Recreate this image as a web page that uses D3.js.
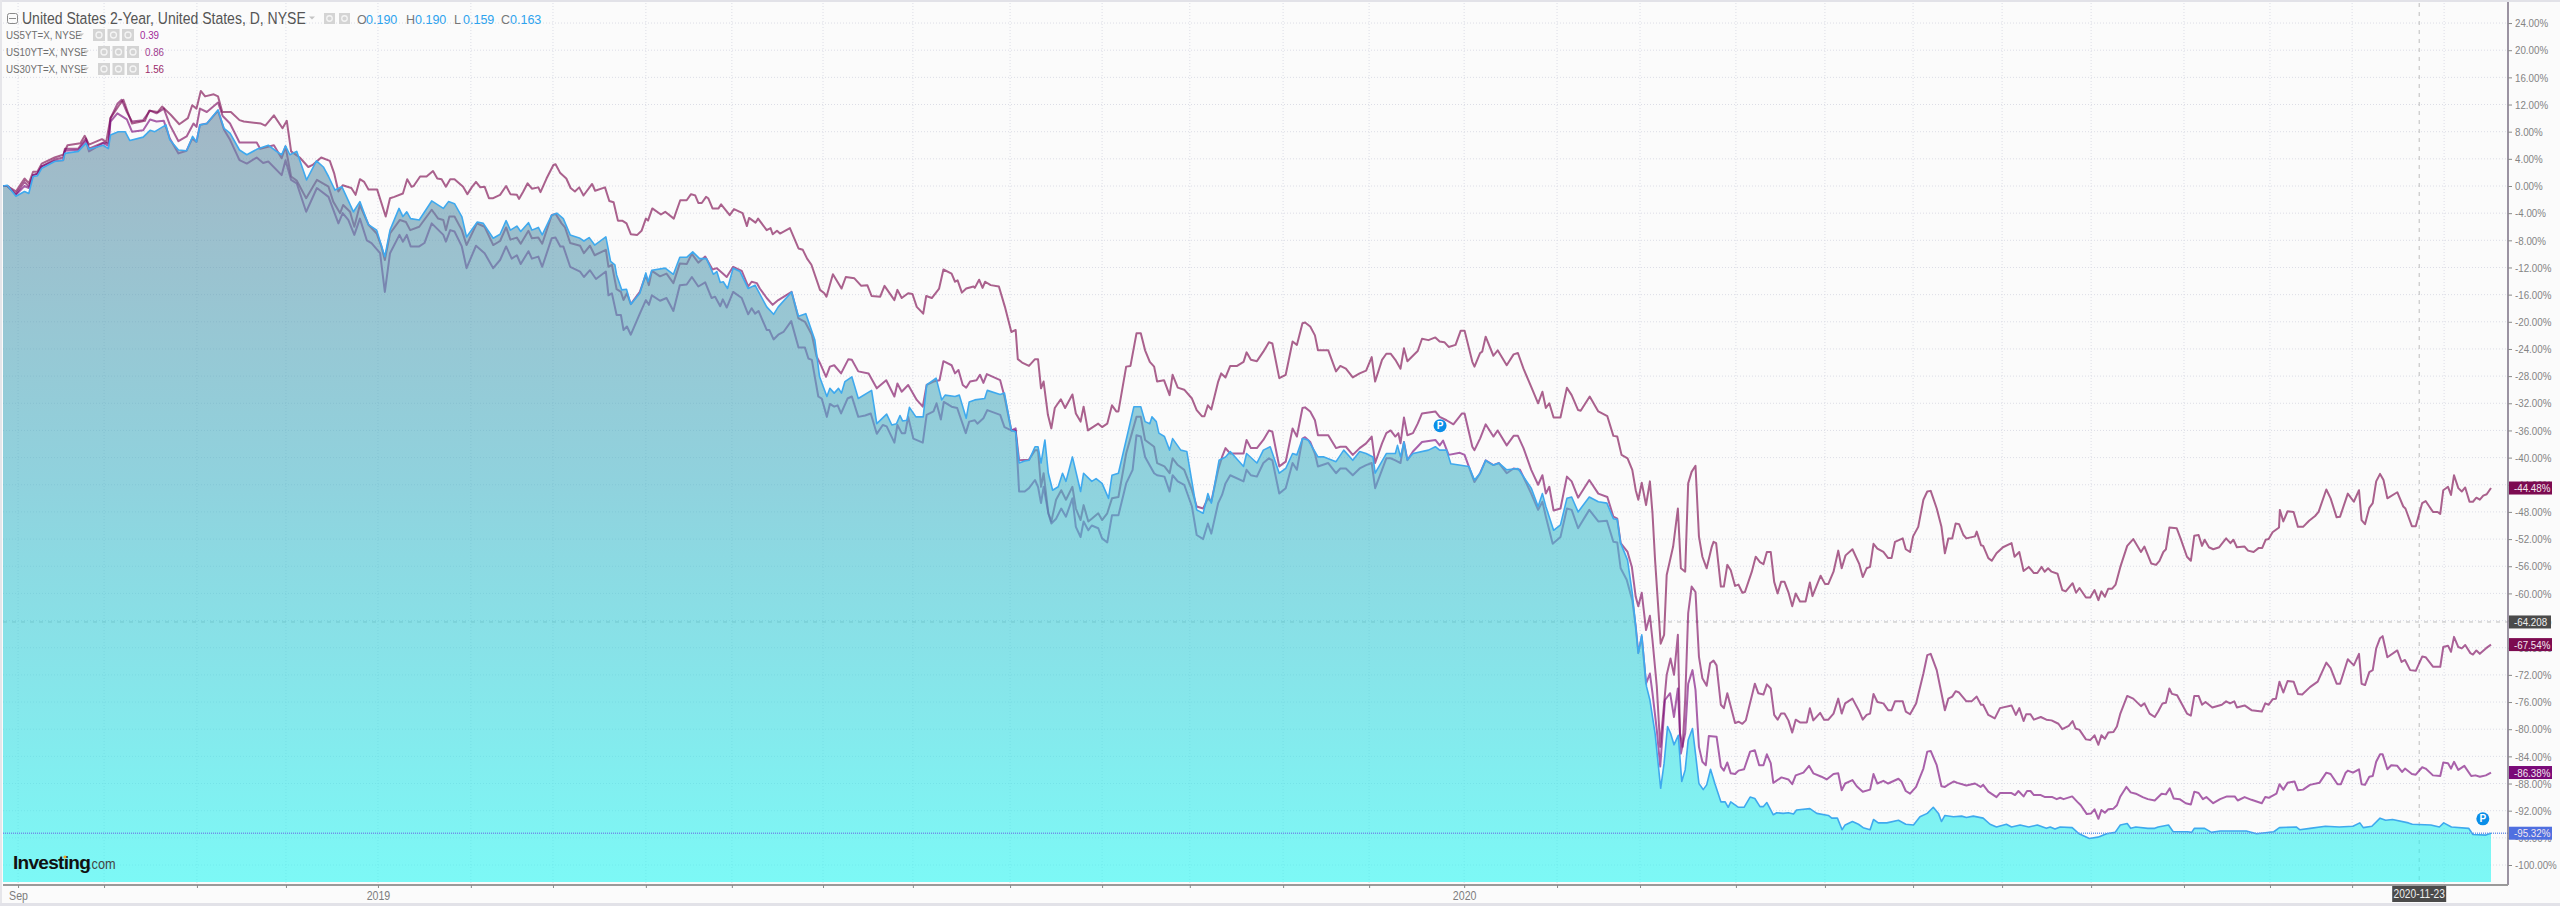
<!DOCTYPE html>
<html>
<head>
<meta charset="utf-8">
<script src="https://cdnjs.cloudflare.com/ajax/libs/d3/7.8.5/d3.min.js"></script>
<style>
  html, body { margin: 0; padding: 0; background: #fbfbfb; overflow: hidden; }
  text { font-family: "Liberation Sans", Arial, sans-serif; }
  /* the source screenshot is squeezed sideways, so is all of its text */
  .sq  { transform-box: fill-box; transform-origin: left center;   transform: scaleX(.85); }
  .sqm { transform-box: fill-box; transform-origin: center center; transform: scaleX(.85); }
</style>
</head>
<body>
<div id="chart"></div>
<script>
// every point is [trading bar since start, % change]
const us30y = [[0,0],[1,0],[3,-0.8],[5,1.1],[6,0.4],[7,2.1],[8,2.1],[9,3.3],[12,4.2],[14,4.6],[15,6],[18,6.3],[19,7.4],[20,6.1],[23,6.9],[24,6.5],[25,10],[27,11.9],[28,12.7],[29,10.9],[30,9.2],[33,9.6],[34,11.1],[36,10.9],[37,11.7],[39,10.5],[41,9.1],[43,10],[44,11.9],[45,11.4],[46,14],[47,13.2],[49,13.5],[50,13.2],[51,10.9],[53,10.9],[55,9.7],[56,9.5],[60,9.2],[61,8.9],[63,10.4],[65,8.5],[66,9.6],[67,5.1],[69,4.2],[71,2.8],[72,3.1],[74,4.2],[76,3.7],[77,1.9],[78,-0.8],[79,0.1],[81,-0.3],[82,-1.3],[83,1],[84,0.6],[85,-0.5],[87,-0.5],[89,-4.5],[90,-1.8],[91,-1.6],[93,-1.1],[94,1],[95,-0.1],[95.5,0],[97,1.4],[98.5,1.4],[100,2.2],[101,1.1],[102,1],[103,-0.1],[104,1],[105,1],[107,-0.1],[108,-1.2],[109,-0.2],[110,0.6],[111,-0.2],[112,-0.1],[113,-1.8],[114,-1.8],[115.6,-1.3],
  [117,0],[118,-1.2],[119.5,-1.3],[120,-1.9],[121,-0.8],[122,0.4],[123,-0.4],[124.5,-0.2],[125,-0.9],[126.4,1.1],[128,3.1],[128.5,3.2],[129.6,1.9],[131,1.1],[132,-0.3],[133,-0.8],[134,-0.2],[135,-1.4],[137,0.3],[137.7,-0.7],[140,-0.2],[141,-2.2],[142,-2.4],[143,-5.1],[144,-5.1],[145,-5.5],[146,-7.1],[147.5,-7.2],[148.5,-6.6],[149.5,-4.8],[150,-5.1],[151,-3.3],[153,-4.2],[154,-3.8],[156,-4.8],[157.5,-2.1],[159,-2.1],[160,-1.2],[161,-1.4],[161.7,-2.5],[162.5,-2.5],[163.5,-1.6],[164,-1.8],[165,-3.3],[166.4,-3.3],[167,-2.7],[169,-4.3],[170,-3.4],[172,-4],[173,-5.9],[173.5,-4.7],[175,-5.4],[175.6,-4.8],[177.6,-6.5],[178.5,-6.2],[179,-7.1],[180,-6.6],[180.7,-7],[183,-6.2],[185,-9.2],[186,-9.4],[187,-10.7],[188,-11.6],[190,-15.3],[191,-15.8],[191.5,-16.3],[192.5,-14.1],[193,-13],[195,-15.1],[196,-13.4],[198,-13.6],[199.6,-14.7],[201,-14.6],[202,-16.2],[204,-16.3],[205,-14.7],[207.3,-16.8],[208,-15.3],[209,-16.5],[210.5,-15.8],[211.5,-15.9],[212.5,-17.8],[214,-18.8],[214.7,-16.2],[216,-16.5],[217.7,-15.1],[218.7,-12.3],[220.6,-12.9],[221.4,-14.1],[222,-13.9],[223,-15.7],[224,-15.1],[225.7,-14.8],[226,-15],[227,-13.8],[227.8,-15],[228.4,-14.1],[229.7,-14.6],[231.6,-14.8],
  [233,-17.8],[234.5,-21.5],[235.5,-21.2],[236,-25.5],[237,-26],[238.6,-26.5],[240,-25.5],[240.7,-25.5],[241.4,-29.8],[242,-28.8],[243,-33.7],[243.8,-35.7],[244.6,-32.7],[246,-31.4],[247,-32.7],[248.7,-30.7],[249.5,-33.5],[250.6,-34.7],[251.3,-32.5],[252.3,-36],[253,-35.7],[254.7,-35],[255.6,-35.5],[256.8,-35],[257.9,-32.3],[258.9,-33.2],[259.4,-33.2],[261.2,-26.6],[262.2,-26.5],[263.6,-21.7],[264.6,-21.7],[265.6,-24.2],[266.7,-25.9],[267.7,-26.6],[268.4,-28.8],[270,-28.6],[271.3,-30.8],[272,-27.8],[273.2,-29.7],[274.7,-30],[276.5,-31.3],[277.6,-33],[278.8,-33.9],[279.4,-33.9],[280.2,-32.3],[281,-32.9],[282.6,-28.8],[283.3,-27.6],[284.3,-28.2],[285.4,-26.5],[287,-26.5],[288.5,-25.9],[289.2,-24.5],[290.2,-25.6],[291.6,-25.8],[293.1,-24.4],[294.4,-23],[295.2,-23.2],[296.8,-28.3],[298.3,-27.8],[299.9,-22.9],[300.9,-23.4],[302.2,-20.2],[302.8,-20.1],[304,-20.7],[305.1,-22],[305.8,-24.2],[308.2,-24.2],[310,-27.3],[311,-26.5],[312.3,-26.9],[313.9,-28.2],[315.5,-27.6],[317,-27.2],[318.3,-25.2],[319.1,-28.8],[320.7,-25.6],[321.7,-24.7],[322.7,-24.7],[323.8,-25.6],[325,-26.9],[325.8,-23.9],[326.6,-25.8],[329,-24.3],[330,-22.5],[331.5,-22.7],[333.1,-22.3],[334.1,-22.9],[335.2,-23],[336.2,-23.7],[337.8,-23.4],[339,-21.3],[339.9,-21.3],[341.7,-25.9],[342.2,-26.6],[343.5,-24.6],[344,-24.4],[344.8,-22.2],[346.6,-25],[347.6,-24.2],[349.7,-26.4],[351.3,-24.8],[352.3,-24.6],[353.6,-26.9],[355.4,-29.6],[357,-32],[358,-30.3],[358.8,-32.7],[359.6,-32],[360.6,-34.1],[362.2,-34.1],[363.7,-29.7],[364.8,-30.8],[366.3,-33],[366.9,-33.1],[369,-31],[371,-33.2],
  [373.1,-33.9],[374.5,-36.8],[375.4,-36.9],[376.4,-39.6],[377.8,-40.1],[378.9,-41.8],[379.7,-44.8],[380.3,-46.2],[381.1,-43.7],[382.1,-47],[383,-43.5],[383.6,-48.2],[384.2,-55.1],[385.5,-67.4],[386.3,-66.1],[386.9,-57.3],[388.4,-53.1],[389.5,-47.5],[390.2,-56.3],[391.2,-56.8],[391.9,-43.8],[392.7,-42.1],[393.6,-41.2],[394.4,-51.6],[395.2,-54.6],[396.2,-56.3],[397.4,-53.1],[397.8,-52.4],[398.4,-52.6],[399.5,-59],[400.2,-59],[401,-55.8],[401.8,-56.6],[402.8,-58.9],[403.6,-58.7],[404.5,-59.9],[405.1,-59.8],[406.7,-56.8],[407.6,-54.6],[408.6,-55.4],[409.4,-55.7],[410.2,-53.9],[411.1,-53.9],[411.9,-58.3],[412.7,-60],[413.5,-58.3],[414.3,-58.3],[415.2,-59.8],[416.1,-61.9],[416.9,-60],[417.9,-61.2],[419.2,-61.2],[420.2,-58.4],[420.8,-60.4],[422.7,-57.4],[423.7,-58.6],[424.5,-58.6],[425.7,-56.8],[426.8,-53.7],[427.6,-56.3],[428.5,-54.4],[430.1,-53.5],[431.7,-55.7],[432.5,-57.6],[433.4,-56.3],[434.2,-56.1],[435,-52.7],[435.9,-53.4],[437.3,-53.9],[438.4,-54.8],[439.2,-54.8],[440,-52.4],[441.8,-51.9],[442.5,-53.5],[443.5,-53.9],[444.2,-51.6],[445.4,-50.2],[446.6,-46.2],[447.5,-45],[448.3,-44.9],[449.7,-47.5],[450.8,-50.2],[451.6,-54.1],[452.4,-51.9],[453.3,-51.9],[454.1,-49.7],[454.9,-49.8],[455.9,-51.4],[456.6,-51.9],[458.6,-51.6],[459,-50.9],[460,-52.9],[460.5,-53],[461.7,-54.8],[462.5,-55.2],[463.6,-54.1],
  [465.1,-53.2],[467.1,-52.6],[467.8,-54.6],[468.9,-53.9],[469.9,-56.7],[471.1,-56.1],[472.3,-57],[473.1,-57],[474.1,-56.1],[474.8,-56.8],[475.6,-56.3],[476.4,-56.8],[477.8,-57.1],[478.9,-59.5],[479.7,-59.7],[481.3,-58.5],[482.1,-59.9],[482.9,-59.2],[484.4,-60.6],[485.4,-60.6],[486.4,-59.5],[487.3,-61],[488,-59.7],[488.8,-60.5],[489.6,-59.3],[490.5,-59.3],[491.3,-58.7],[492.4,-56.1],[494,-53],[495.4,-52],[497.2,-53.9],[498,-53.1],[499.6,-55.6],[500.7,-55.8],[501.5,-55.2],[502.4,-53.9],[503,-53.5],[503.8,-50.3],[505.5,-50.4],[506.4,-51.9],[507.9,-54.6],[508.8,-55.2],[509.6,-51.5],[510.6,-51.4],[511.4,-53],[512,-52.1],[513,-53.2],[514,-53.5],[515.4,-53.2],[517,-51.9],[518,-52.6],[518.7,-52.1],[519.5,-53.2],[521.3,-53.1],[522.1,-53.7],[523.4,-53.9],[524.6,-53.3],[525.4,-53.3],[526.2,-52.1],[526.9,-52],[527.8,-51],[529.3,-50.3],[529.5,-47.7],[530.3,-49.4],[531.3,-47.9],[532.7,-48],[533.7,-50.2],[534.9,-50.2],[536.3,-49.3],[537.7,-48.6],[538.5,-48],[540.3,-44.7],[541.3,-46],[542.7,-48.8],[543.5,-48.7],[545.3,-45.3],[546.7,-46.5],[547.9,-44.8],[548.5,-49.2],[549.3,-49.8],[550.3,-47.4],[551.1,-46.7],[551.9,-43.5],[552.8,-42.4],[553.6,-43.3],[554.5,-46],[556.8,-45.1],[558.2,-47.2],[558.7,-47.5],[560.2,-50.1],[561.1,-50.1],[562.6,-46.7],[563.4,-46.4],[565.1,-48],[566.2,-48],[566.8,-48.3],[567.5,-44.8],[568.6,-44.3],[569.3,-45.5],[570,-42.6],[571,-44.5],[571.8,-45],[572.6,-44.4],[573.6,-46.5],[574.4,-46.5],[575.2,-45.9],[576,-46.2],[576.8,-45.6],[577.6,-45.4],[578.6,-44.48]];

const us10y = [[0,0],[1,0],[3,-1.2],[5,0.6],[6,-0.1],[7,1.6],[8,1.8],[9,2.9],[12,3.9],[14,4.2],[14.4,5.5],[17.5,5.5],[19.3,7],[20,5.5],[23.3,6.4],[24.5,6.3],[25,10],[26.6,12.1],[27.6,12.7],[28.8,10.9],[30,9.5],[32.6,9.7],[34.2,11.1],[35.7,10.7],[37.4,11.4],[38.8,9],[40.8,6.6],[42.7,7.3],[44.3,9.2],[45,8.7],[45.8,11.4],[47.4,10.9],[50,12.3],[51.1,10.3],[52.8,9.2],[55,6.4],[59,6.4],[59.8,5.5],[63,6],[64.8,4.1],[65.7,5.8],[67,1.4],[68.3,0.8],[70.5,-1.8],[73,0.9],[75.7,-0.1],[76.8,-2.3],[78.4,-4],[79.1,-2.8],[80.7,-3.8],[81.7,-6],[83,-2.8],[85,-5.7],[86.9,-7],[88,-8.9],[88.8,-10.9],[90,-7],[92.3,-5],[93.7,-5.3],[94.7,-6.5],[96.8,-6],[99.7,-3.5],[101.2,-4.8],[102.4,-5],[103,-6.5],[103.8,-4.5],[105,-4.5],[106.7,-6.5],[107.8,-8.7],[110.2,-5.5],[112,-6],[114,-8.7],[115.6,-8.1],
  [117,-6.1],[118,-7.9],[119.5,-7.6],[120.4,-8.5],[122.2,-6.6],[123,-7.7],[124.5,-7.6],[125.4,-8.5],[127.6,-4.3],[128.5,-4.1],[129.9,-5.5],[130.7,-6.1],[131.9,-8.4],[134.2,-8.8],[135.1,-9.9],[136.5,-8.8],[137.6,-10.2],[140.2,-9.4],[140.8,-11.9],[141.6,-11.6],[142.7,-15.2],[143.7,-15.6],[144.3,-16.8],[145.1,-15.8],[146,-17.4],[148.1,-15.6],[149.5,-13.1],[150.2,-14.6],[150.9,-12.5],[152.8,-13.3],[154.3,-12.9],[155.9,-14.3],[157.4,-11.4],[159,-11.5],[160.2,-10],[161.7,-11.3],[163.3,-10.4],[165,-12.3],[166,-12.1],[167.4,-12.9],[168.3,-13.4],[169.8,-11.9],[171.8,-12.5],[173.3,-14.8],[174.1,-14.1],[175.3,-14.3],[176,-15.1],[177.6,-16.5],[179,-17.5],[180.3,-16.8],[183.4,-15.6],[185,-19.5],[186.5,-20],[188.1,-21.9],[189.2,-25.1],[190,-26.1],[191.4,-28.1],[192.3,-26.6],[193.3,-26.4],[194.9,-27.6],[196.6,-25.5],[197.4,-25.6],[198.9,-27.3],[201.3,-27.6],[203.2,-29.8],[205.4,-28.6],[207.3,-31],[208,-29.1],[209,-30.3],[210.5,-29.3],[212.5,-31.5],[213.9,-32.5],[214.8,-29.3],[216.4,-28.8],[217.8,-28.6],[218.7,-25.8],[220.6,-26.4],[221.4,-27.6],[222.2,-27.1],[223.2,-29.3],[224,-29.7],[224.9,-28.8],[226.4,-28.6],[227.2,-27.8],[228,-29],[228.8,-27.7],[231.9,-28.6],
  [232.9,-31],[234.5,-36],[235.5,-36],[236.3,-40.4],[238.6,-40.3],[240,-38.9],[240.7,-38.9],[241.4,-44.3],[242,-42.3],[243.1,-48.2],[243.8,-49.4],[244.9,-46.2],[246.1,-44.8],[247.2,-46.2],[248.7,-44.3],[249.5,-47.5],[250.6,-49.2],[251.3,-47],[252.4,-49.4],[253.2,-49],[254.7,-48.2],[255.6,-49.2],[256.8,-48.2],[257.9,-46],[259.4,-45.8],[261.2,-39.4],[263.6,-34],[264.6,-34],[265.6,-37.4],[267.7,-38.4],[268.4,-40.8],[270.1,-41.3],[271.3,-42.3],[272,-40.1],[273.2,-41.1],[274.7,-41.8],[276.5,-44.8],[277.6,-47.2],[279.1,-47.5],[280.2,-46],[281,-46.5],[282.6,-41.8],[283.5,-39.9],[284.3,-38.6],[285.4,-39.4],[288.5,-39.4],[289.2,-37.4],[290.2,-38.6],[291.6,-38.6],[293.1,-37.4],[294.4,-36],[295.2,-36.2],[296.8,-41.3],[298.3,-40.6],[299.9,-35.7],[300.9,-36.9],[302.2,-32.7],[302.8,-32.6],[304,-33.2],[305.1,-34.5],[305.8,-36.7],[308.2,-36.7],[310,-38.6],[311,-38.4],[312.3,-38.4],[313.9,-39.6],[315.5,-38.6],[317,-37.9],[318.3,-36.9],[319.1,-40.8],[320.7,-37.9],[321.7,-36.4],[322.7,-36],[323.8,-36.9],[324.5,-36.4],[325,-37.9],[325.8,-34.1],[326.6,-36.7],[327.9,-36.4],[329,-35],[330,-33.5],[333.1,-33.2],[334.1,-34],[335.7,-34.5],[337.3,-35.1],[339.3,-33.5],[339.9,-33.5],[341.7,-38.4],[342.2,-38.9],[343.5,-37.2],[344.8,-35.1],[346.6,-36.9],[347.6,-36],[349.7,-38.2],[351.3,-36.8],[352.3,-36.8],[353.6,-38.6],[355.4,-41.8],[357,-44],[358,-42.6],[358.8,-45.3],[359.6,-44.3],[360.6,-47.8],[362.2,-47.5],[363.7,-42.8],[364.8,-43.5],[366.3,-45.9],[368.9,-43.3],[371,-45.3],
  [373.1,-45.8],[374.5,-48.7],[375.4,-49],[376.2,-52.6],[377.8,-53.9],[378.8,-56.1],[379.7,-60.5],[380.3,-61.9],[381.1,-59.9],[382.1,-65.4],[383,-63.3],[383.6,-66.9],[384.6,-73.7],[385.4,-82.6],[386.9,-72],[387.8,-69.6],[388.6,-72],[389.5,-66.1],[390,-80.6],[390.6,-82.6],[391.2,-75.7],[391.9,-62.9],[392.7,-59],[393.6,-59.8],[394.4,-69.3],[395.2,-72.5],[396.2,-73.6],[397,-70.3],[397.8,-69.9],[398.5,-70.6],[399.5,-76.4],[400.2,-76.9],[401,-74.7],[402.8,-79.1],[403.6,-78.9],[404.5,-79.2],[405.3,-78.7],[407.4,-73.3],[408.2,-74.7],[409.4,-74.9],[410.2,-73.4],[411.1,-74],[411.9,-77.9],[412.7,-78.6],[413.5,-77.7],[414.3,-77.7],[415.2,-78.7],[416.1,-80.5],[416.9,-78.6],[417.9,-79],[419.5,-79],[420.2,-76.9],[421,-78.7],[422.6,-77.6],[423.5,-78.6],[424.5,-78.6],[425.7,-77.7],[426.8,-75.5],[427.6,-77.7],[428.4,-76.2],[430.1,-75.5],[431.7,-77.4],[432.5,-78.6],[433.4,-77.9],[434.2,-77.7],[435,-74.8],[435.9,-76],[437.3,-76.2],[438.4,-77.2],[439.2,-77.2],[440,-75.9],[441.8,-75.9],[442.5,-77.4],[443.5,-77.8],[444.9,-76.2],[446.6,-71.8],[447.5,-69.1],[448.3,-68.9],[449.7,-71.3],[450.8,-74.7],[451.6,-77.2],[452.4,-75.5],[453.3,-75.2],[454.1,-74.4],[454.9,-74.6],[456.6,-75.9],[457.8,-75.9],[459,-75.2],[460,-76.4],[460.5,-76.4],[461.7,-77.9],[463.2,-78.4],[464.4,-76.9],
  [467.1,-76.5],[468.1,-77.9],[468.9,-76.9],[469.9,-78.8],[470.5,-77.8],[471.5,-77.8],[472.3,-78.6],[473.9,-78.2],[475.2,-78.6],[476.4,-78.7],[478,-79.2],[478.9,-80],[480.4,-79.5],[481.3,-78.8],[482,-79.9],[482.9,-80.1],[484.4,-81.5],[485.4,-81.6],[486.4,-80.9],[487.3,-82.3],[488,-80.9],[488.8,-81.4],[489.6,-80.5],[490.8,-80.4],[491.6,-79.6],[492.4,-77.7],[494,-75.1],[495.4,-75.5],[497.2,-76.6],[498,-76.2],[499.2,-77.7],[500.4,-78.2],[501.2,-77.4],[502.2,-76.2],[503,-76.1],[503.8,-74],[504.4,-74.8],[505.6,-75],[506.8,-76.4],[507.9,-77.7],[508.8,-78],[509.6,-75.1],[510.6,-75.1],[511.4,-76.4],[512.2,-76],[513.8,-76.8],[516,-76.4],[517,-75.9],[517.9,-76.2],[518.9,-75.9],[519.5,-76.8],[521.3,-76.5],[522.9,-77.2],[525.3,-77.4],[526.1,-76.2],[526.9,-76.4],[527.8,-75.6],[528.6,-75.5],[529.4,-73],[530.3,-74.6],[531.3,-72.9],[532.7,-73],[533.7,-74.8],[534.7,-74.9],[536.5,-73.8],[538.3,-73],[540.3,-70.2],[541.3,-71],[542.7,-73.3],[543.5,-73.3],[545.3,-69.7],[546.7,-70.6],[547.9,-68.9],[548.5,-73.3],[549.3,-73.5],[550.3,-71.6],[551.1,-71.3],[551.9,-68.1],[552.8,-66.6],[553.4,-66.3],[554.5,-69.4],[556.8,-68.4],[557.8,-70.1],[558.6,-69.8],[559.8,-71.3],[561.1,-71.4],[562.6,-69.3],[563.4,-69.4],[565.1,-70.8],[566.8,-70.8],[567.5,-67.9],[568.6,-67.7],[569.3,-68.6],[570,-66.4],[571,-67.9],[571.8,-68.1],[572.6,-67.6],[573.8,-68.8],[574.4,-69],[575.2,-68.4],[576,-68.9],[577.4,-68.1],[578.6,-67.54]];

const us5y = [[0,0],[1,0],[3,-1.3],[5,0],[6,-0.3],[7,1.6],[8,1.8],[9,2.9],[12,3.7],[14,3.8],[14.4,5.2],[17.5,5.3],[19.3,6.7],[20,5.1],[23.3,6.3],[24.5,5.9],[25,9.5],[26.6,10.7],[28.8,9.8],[30,8],[32.6,8.2],[34.2,9.8],[35.7,9.5],[37.4,9.6],[38.8,7],[40.8,4.8],[42.7,5.2],[44,7],[45,6.5],[45.8,9],[47.4,9.2],[50,11.1],[51.4,8.3],[52.8,6.8],[55,3.8],[56.7,3.3],[59,4.2],[60.5,3.4],[61.7,3.6],[64.8,1.6],[65.7,3.8],[67,0.9],[68.3,0.4],[70.5,-3.8],[73,-0.3],[75.7,-1.6],[78,-5.5],[79,-4],[80.3,-5],[81.7,-7.2],[83,-4.8],[84.6,-8],[85.7,-8.4],[87.7,-9.9],[88.8,-15.6],[90,-9.9],[92.2,-7.2],[93,-8.2],[93.9,-7.2],[94.8,-8.9],[96.8,-8.9],[98,-8.4],[99.7,-5.5],[102.4,-7.2],[103,-8.2],[104,-6.5],[105,-6.7],[106.7,-8.9],[107.8,-12.1],[110,-8.8],[112,-9.9],[114,-12.1],[115.6,-10.9],
  [117,-8.9],[118.3,-10.7],[119.5,-10.2],[120.4,-11.5],[122.2,-9.6],[123,-10.7],[124.5,-10.4],[125.4,-11.9],[127.6,-7.7],[128.5,-7.6],[129.6,-8.9],[130.3,-8.9],[131.9,-11.9],[134.2,-12.6],[135.1,-13.4],[136.5,-12.4],[137.9,-13.7],[140.2,-12.6],[140.8,-16.1],[141.6,-15.8],[142.7,-19],[143.7,-19],[144.3,-21.2],[145.1,-20.7],[146,-21.9],[148.1,-18.8],[149.5,-16.8],[150.2,-17.5],[150.9,-16.1],[152.8,-16.9],[154.3,-16.5],[155.9,-18.4],[157.4,-14.6],[159,-14.5],[160.2,-13.4],[161.7,-14.8],[163.3,-14.2],[164.8,-16.5],[165.6,-16.3],[166.8,-17.7],[167.4,-16.7],[168.3,-17.9],[169.8,-15.6],[171.8,-16.5],[173.3,-18.9],[174.1,-18],[174.9,-18.8],[175.7,-18.4],[177.6,-21.2],[178.2,-21.2],[179.2,-22.6],[180.3,-21.9],[181.5,-21.5],[183.3,-19.9],[185,-23.8],[186.5,-23.8],[187.3,-25.4],[188.1,-25.6],[189.6,-31],[190.4,-31.3],[191.6,-34],[192.3,-32.1],[193.3,-32.5],[194.1,-32.3],[194.9,-33.5],[196.4,-31.3],[197.4,-31],[198.9,-34],[200.5,-33.8],[201.8,-33.5],[203.2,-36.5],[204.6,-35.2],[205.5,-35.4],[207.3,-37.8],[208,-35.2],[209,-36.4],[209.8,-36.4],[210.5,-34],[211.7,-37.2],[213.9,-37.8],[214.8,-33.7],[216.4,-33.2],[217.1,-32],[218.1,-34.4],[218.8,-31.8],[220.6,-32.5],[221.9,-32.7],[223.9,-36.4],[224.7,-34.7],[226,-34.5],[226.6,-35],[228,-34.2],[228.9,-33],[231.9,-33.7],
  [232.9,-35.5],[234.5,-36],[235.5,-35.7],[236.3,-45],[237.6,-45],[238.6,-44.5],[240,-43.3],[240.7,-44.3],[241.4,-46.7],[242,-44.3],[243.1,-48.2],[243.8,-49.7],[244.9,-49],[246.1,-47.5],[247.2,-48.7],[248.7,-46],[249.5,-50.2],[250.6,-51.7],[251.3,-49.4],[252.4,-50.7],[253.2,-50],[254.7,-50.4],[255.6,-51.9],[256.8,-52.5],[257.9,-48.5],[259.4,-48.5],[261.2,-43.8],[262.7,-41.8],[263.6,-36.7],[264.6,-36.9],[265.6,-39.9],[267.7,-42.3],[268.4,-42.6],[270.1,-42.8],[271.3,-45],[272,-42.6],[273.2,-43.5],[274.7,-44],[276.5,-47.2],[277.6,-51.4],[279.1,-52],[280.2,-49.7],[281,-51.2],[282.6,-46.7],[283.5,-45.5],[284.3,-43.8],[285.4,-42.6],[288.5,-43.5],[289.2,-41.8],[290.2,-42.6],[291.6,-42.8],[293.1,-40.8],[294.4,-40.1],[295.2,-40.4],[296.8,-45.3],[298.3,-44.5],[299.9,-40.8],[300.9,-41.8],[302.2,-37.2],[302.8,-37],[304,-37.7],[305.1,-39.4],[305.8,-41.3],[308.2,-40.8],[310,-42.3],[311,-41.6],[312.3,-41.6],[313.9,-42.6],[315.5,-41.6],[317,-41.1],[318.3,-40.8],[319.1,-44.5],[320.7,-41.8],[321.7,-40.1],[322.7,-40.1],[323.8,-40.4],[325,-40.8],[325.8,-37.7],[326.6,-40.4],[327.9,-39.1],[330,-37.7],[333.1,-37.4],[334.1,-38.2],[334.9,-37.5],[336.2,-39.6],[338.8,-39.3],[339.9,-39.6],[342.2,-43.6],[343.5,-42.3],[344.8,-40.4],[346.6,-41.1],[347.9,-40.8],[349.7,-42.3],[351.3,-41.6],[352.8,-41.8],[355.4,-45.3],[357,-47.7],[358,-46.5],[358.8,-48.7],[360.4,-52.7],[362.2,-51.7],[363.7,-47.5],[364.8,-47.7],[366.3,-50.4],[368.9,-47.7],[371,-49.4],
  [373,-49.3],[374.5,-52.4],[375.4,-52.5],[376.2,-56.3],[377.6,-58],[378.9,-61],[379.7,-64.9],[380.3,-68.8],[381.1,-66.4],[382.1,-73.3],[383,-71.8],[383.6,-74.7],[384.6,-80.1],[385.4,-85.5],[386.5,-75.7],[387.7,-74.7],[388.6,-78.2],[389.5,-74],[390.2,-83.6],[391.2,-80.6],[391.9,-73.3],[392.9,-71.3],[393.6,-74.2],[394.4,-82.6],[395.2,-84.8],[396,-85.3],[396.7,-81],[398.5,-81.1],[399.5,-85.5],[400.2,-86.1],[401,-84.9],[401.8,-86.5],[402.8,-86.6],[403.6,-86.1],[404.9,-85.9],[406.3,-83.3],[407.4,-83.1],[408.4,-85.3],[409.4,-85.3],[410.2,-83.7],[411.1,-85],[411.7,-87.9],[413.6,-87.1],[415.2,-87.4],[416.1,-88.1],[416.9,-86.8],[418.7,-86.4],[420,-85.4],[421,-86.5],[422.9,-87],[424.1,-87.4],[425.7,-86.6],[426.8,-86.5],[427.6,-89],[428.4,-88],[430.1,-87.5],[431.1,-88.4],[432.5,-89.2],[434.2,-88.9],[435,-86.6],[435.9,-88],[437.3,-87.6],[438.4,-88],[440.8,-87.3],[441.5,-87.7],[442.5,-89.1],[443.5,-89.5],[444.9,-88.5],[446.6,-85.8],[447.5,-83.3],[448.3,-83.2],[449.7,-85.3],[450.8,-88.4],[451.6,-88.5],[452.8,-88],[453.7,-87.7],[454.5,-87.9],[456.6,-88.3],[458.6,-88],[459.9,-88.5],[460.5,-88.2],[461.7,-89.2],[463.6,-90],[464.4,-89.4],
  [465.9,-89.4],[467.1,-89.4],[467.9,-89.7],[468.7,-89.1],[469.9,-89.9],[470.7,-89.1],[471.5,-89.1],[472.3,-89.7],[473.9,-89.7],[474.9,-90],[476.6,-90],[477.6,-90.3],[478.4,-90.1],[479.2,-90.3],[481.2,-89.9],[482.4,-90.7],[483.2,-91.2],[484.6,-92.5],[485.6,-92.4],[486.4,-91.8],[487.3,-93.2],[488,-91.9],[488.8,-92.3],[489.6,-91.8],[490.8,-91.7],[491.6,-91.2],[492.4,-89.9],[493.8,-88.5],[494.8,-89.3],[496,-89.5],[497.6,-90],[498.8,-90.3],[500.4,-90.5],[502,-89.5],[503,-89.6],[503.9,-88.7],[504.8,-90.2],[506.2,-90.3],[507.6,-90.9],[508.8,-91.1],[509.6,-89.2],[510.6,-89.4],[511.6,-90.3],[512.4,-90],[514,-90.9],[515.6,-90.3],[517.2,-89.9],[519,-89.9],[519.7,-90.5],[521.3,-90],[522.9,-90.4],[525.3,-90.9],[526.1,-90],[526.9,-90.1],[528.7,-89.5],[529.4,-88.1],[530.3,-88.9],[531.3,-87.9],[532.9,-87.7],[533.7,-89],[534.9,-88.9],[536.5,-88.2],[538.7,-87.9],[540.3,-86.4],[541.3,-86.6],[542.9,-88.1],[543.7,-88.1],[544.8,-86.4],[545.3,-86.1],[546.5,-86.4],[547.9,-85.9],[548.5,-88.1],[549.3,-88.2],[550.3,-87],[551.1,-86.9],[551.9,-84.8],[552.8,-83.7],[553.4,-83.7],[554.5,-85.9],[555.4,-85.3],[556.8,-85.4],[557.9,-86.3],[558.6,-85.8],[560.2,-86.6],[561.1,-86.7],[562.6,-85.6],[563.4,-85.8],[565.1,-86.8],[566.8,-86.9],[567.5,-84.9],[568.6,-85],[569.3,-85.8],[570,-84.8],[571,-86],[572.4,-85.4],[574,-86.9],[575,-86.8],[576,-87],[577.4,-86.8],[578.6,-86.38]];

const us2y = [[0,0],[1,0.1],[3,-1.5],[5,-0.8],[6,-1.1],[7,1.4],[8,1.5],[9,2.6],[12,3.6],[14,3.8],[14.4,4.8],[17.5,5.1],[19.3,6.3],[20,5.4],[23.3,6],[24.5,5.5],[25,7.5],[26.8,8],[28.4,8],[29.5,6.7],[32.6,7.2],[34.2,8.2],[35.3,8],[37.9,9],[38.8,6.8],[40.8,5.3],[42.7,5.2],[44.1,7.3],[45,6.5],[45.8,9],[47.4,9.2],[50,11.2],[51.4,8.5],[52.8,7.8],[55,5.3],[56.7,4.6],[59,5.4],[61.7,6],[63.6,5.1],[64.8,4.6],[65.7,5.9],[66.7,4.6],[68.3,5.1],[70.6,0.9],[72.9,3.7],[74.5,2.8],[75.7,1.4],[77.2,-0.6],[78.8,-0.1],[81.5,-3.8],[83,-2.3],[85,-5.7],[86.9,-6.5],[88.8,-10.4],[90,-6.5],[92.1,-3.3],[93,-4.5],[93.9,-3.8],[94.8,-4.8],[96.8,-5],[99.7,-2.2],[102.4,-3.3],[103.6,-2.3],[105,-2.6],[106.7,-4.5],[107.8,-7.5],[110.3,-5.3],[111.7,-5.5],[114,-7.7],[115.6,-7.1],
  [117,-5.1],[118,-6.5],[119.5,-5.9],[120.4,-6.7],[122.2,-5.4],[123,-6.5],[124.5,-6.1],[125.4,-7.2],[127.6,-4.3],[128.8,-4],[130.3,-4.8],[131.9,-7.2],[134.2,-7.7],[135.1,-8.1],[136.3,-7.6],[137.6,-8.7],[140.2,-7.5],[141.3,-11.1],[142.3,-11.6],[142.7,-13.1],[143.9,-15.3],[145,-15.2],[146,-17.4],[148.1,-15.8],[149.5,-12.8],[150,-14.1],[150.9,-12.4],[154,-12.1],[155.9,-13],[157.4,-10.5],[159,-10.5],[160.4,-9.7],[162,-10.7],[163.6,-10.7],[165.2,-13],[166,-12.6],[166.8,-14.2],[167.5,-14.1],[168.5,-15.1],[169.8,-12.1],[171.4,-12.6],[173.3,-15.1],[174.9,-14.6],[177.6,-17.8],[179.2,-18.9],[180.3,-17.8],[183.4,-15.6],[185,-19.2],[186.7,-18.8],[188.8,-22.7],[189.9,-28.1],[191.6,-31],[192.3,-29.8],[193.3,-30.5],[194.3,-29.8],[195,-30.5],[195.8,-28.8],[197.4,-28.1],[198.9,-31.3],[202,-30.1],[203.2,-35],[205.5,-33.6],[206.7,-35.2],[207.8,-35],[208.6,-33.8],[209.2,-34.6],[210.2,-34.5],[210.8,-32.6],[212.3,-34],[214,-34],[214.8,-29.3],[217,-28.3],[218.3,-31.5],[219.1,-30.8],[221.4,-31],[222.4,-30.8],[224,-34.2],[224.7,-31.8],[226,-31.5],[228.3,-31.3],[228.9,-30.1],[231.9,-30.7],
  [232.9,-30.5],[234.5,-36],[235.5,-36.2],[236.3,-40.8],[237.6,-40.5],[238.6,-40.4],[240,-38.4],[240.7,-38.4],[241.4,-40.8],[242.3,-37.4],[243.1,-42.3],[244.1,-44.8],[245.4,-44.3],[246.4,-42.3],[247.2,-43.5],[248.7,-39.9],[250.6,-45],[251.3,-42.3],[253.2,-43.5],[254.2,-43.1],[255.6,-43.8],[257.1,-46],[257.9,-42.6],[259.4,-42.3],[261.2,-37.4],[263,-32.5],[264.6,-32.5],[265.6,-34.7],[266.7,-35],[267.2,-34],[268.2,-34.7],[268.8,-36.4],[270.1,-36.9],[271.3,-38.9],[272,-37.2],[273.9,-38.9],[275.3,-39.1],[277.6,-47.7],[279.1,-48.2],[280.2,-45.3],[281,-46.7],[282.8,-40.4],[284.3,-39.9],[285.4,-39.1],[288.5,-41.3],[289.2,-39.4],[291.6,-40.8],[293.1,-38.9],[294.7,-38.4],[296.8,-42.3],[298.3,-41.6],[299.9,-39.4],[300.9,-39.6],[302.2,-37.2],[303.5,-37.4],[305.8,-39.9],[307.2,-39.9],[310,-40.6],[311.8,-38.9],[313.9,-40.4],[315.5,-39.1],[317,-39.4],[318.6,-39.9],[319.1,-42.3],[321.7,-39.4],[323.8,-39.4],[324.3,-38.2],[325,-39.9],[325.8,-37.7],[326.6,-40.3],[327.9,-39.4],[331.5,-38.9],[333.1,-38.4],[334.1,-38.9],[335.7,-38.9],[336.7,-40.9],[340.9,-41.3],[342.2,-43.3],[343.5,-42.3],[344.8,-40.4],[346.6,-41.1],[347.9,-40.8],[349.7,-41.8],[352.3,-41.6],[353.6,-42.8],[355.4,-44.5],[357,-47.2],[358,-45.3],[358.8,-47.2],[360.6,-50.7],[362.2,-49.9],[363.7,-46],[364.8,-45.8],[366.3,-48],[368.9,-45.8],[371,-46.5],
  [373,-46.7],[374.5,-49],[375.4,-49.1],[376.2,-52.6],[377.8,-55.1],[378.9,-60],[379.7,-64.9],[380.3,-68.8],[381.1,-66.1],[382.2,-73.7],[383,-75.7],[384.2,-80.6],[385.5,-88.7],[386.3,-85],[387.1,-79.6],[387.8,-80.6],[388.6,-82.3],[389.6,-80.9],[390.4,-87.7],[391.2,-86],[391.9,-81.6],[392.9,-79.9],[393.6,-83.6],[394.4,-88],[395.4,-88.9],[396.2,-88.2],[397.1,-85.9],[398.1,-88],[399.5,-90.7],[400.5,-90.7],[401.2,-91.5],[401.8,-90.7],[403.6,-91.5],[404.9,-91.5],[406.3,-90],[407.4,-90.2],[408.6,-91.4],[409.4,-91.4],[410.2,-90.8],[411.7,-92.6],[412.5,-92.3],[414,-92.4],[415.2,-92.3],[416.4,-92.5],[417.1,-91.9],[420.2,-91.7],[421.8,-92.4],[424.5,-92.7],[425.3,-93.1],[426.6,-93.1],[427.7,-94.8],[428.4,-94.1],[430.1,-93.6],[431.5,-94],[432.6,-94.5],[434.2,-94.8],[435,-93.3],[436.1,-93.8],[438.1,-93.8],[440.8,-93.4],[442.5,-94],[444.3,-94.1],[445.8,-92.9],[447.5,-92.4],[448.9,-91.5],[450.1,-92.4],[450.8,-93.6],[451.6,-92.7],[453.6,-92.9],[455.5,-92.8],[456.6,-93],[458.2,-92.8],[460.5,-93.1],[462.1,-94],[463.6,-94.4],
  [465.9,-94],[467.1,-94.4],[469.1,-94.1],[471.1,-94.4],[473.1,-94.1],[475.2,-94.6],[476.1,-94.4],[477.2,-94.7],[478.4,-94.4],[481.2,-94.5],[482.8,-95.4],[485.2,-96.1],[487.2,-95.9],[489.2,-95.4],[491.2,-95.2],[492.4,-94.1],[494,-93.9],[494.8,-94.6],[496,-94.4],[498.8,-94.6],[500.4,-94.6],[501.2,-94.4],[503.6,-94.1],[504.7,-95.1],[508,-95.1],[509,-95.2],[509.6,-94.6],[511.2,-94.6],[512,-94.6],[513.6,-95.2],[515.6,-95],[521.7,-95],[524.1,-95.4],[528.1,-95.1],[529.4,-94.5],[533.3,-94.4],[534.1,-94.8],[536.5,-94.6],[540.1,-94.3],[543.3,-94.4],[546.5,-94.3],[548.1,-93.8],[548.9,-94.5],[550.9,-94.3],[552.8,-93.1],[554.1,-93.4],[555.7,-93.3],[559.4,-93.8],[560.3,-94],[564.6,-94.1],[566.6,-94.4],[567.6,-93.8],[569.4,-94.4],[573.4,-94.6],[574.4,-95.5],[577.4,-95.6],[578.6,-95.32]];

// month starts on the bar axis, only three of them carry a label in the source
const monthBars = [3.5,23.5,45.1,65.8,87.2,108.8,127.9,149.5,169.5,190.7,211.6,234.2,255.6,276,297.7,317.7,339.8,361.4,380.7,403,423.7,444.2,464.9,485.6,507.2,527.2,546.3,567.7];
const monthLabels = {3.5: "Sep", 87.2: "2019", 339.8: "2020"};
const yTicks = d3.range(24, -101, -4);
const crossBar = 561.9, crossLabel = "2020-11-23", crossValue = -64.208;
const lastValues = [-44.48, -67.54, -86.38, -95.32];
const lastColors = ["#7c0a50", "#7c0a50", "#7a0a78", "#4f6fe0"];
const markers = [[334.2, -35.3], [576.7, -93.2]];
const floorValue = -102.5, lastBar = 578.6;

const WIDTH = 2560, HEIGHT = 906;
const svg = d3.select("#chart").append("svg").attr("width", WIDTH).attr("height", HEIGHT)
  .style("display", "block");

const x = d3.scaleLinear().domain([0, lastBar]).range([3, 2491]);
const y = d3.scaleLinear().domain([0, -100]).range([186, 865]);
const AXIS_X = 2508, AXIS_Y = 885;

// page edges
svg.append("rect").attr("width", WIDTH).attr("height", HEIGHT).attr("fill", "#fbfbfb");
svg.append("rect").attr("width", WIDTH).attr("height", 2).attr("fill", "#e2e2e8");
svg.append("rect").attr("width", 2).attr("height", HEIGHT).attr("fill", "#e6e6ea");
svg.append("rect").attr("y", 903).attr("width", WIDTH).attr("height", 3).attr("fill", "#e2e2e8");

// gradient of the 2Y area
const defs = svg.append("defs");
const grad = defs.append("linearGradient").attr("id", "areaFill")
  .attr("gradientUnits", "userSpaceOnUse")
  .attr("x1", 0).attr("x2", 0).attr("y1", 88).attr("y2", 882);
[[0, "#69879f"], [0.5, "#48b7ca"], [1, "#28f7f3"]].forEach(s => {
  grad.append("stop").attr("offset", s[0]).attr("stop-color", s[1]).attr("stop-opacity", 0.6);
});

// grid
svg.append("g").selectAll("line").data(yTicks).join("line")
  .attr("x1", 3).attr("x2", AXIS_X).attr("y1", d => y(d)).attr("y2", d => y(d))
  .attr("stroke", "#dcdde6").attr("stroke-dasharray", "1,2");
svg.append("g").selectAll("line").data(monthBars).join("line")
  .attr("x1", d => x(d)).attr("x2", d => x(d)).attr("y1", 3).attr("y2", AXIS_Y)
  .attr("stroke", "#dcdde6").attr("stroke-dasharray", "1,2");

// crosshair
svg.append("line").attr("x1", 3).attr("x2", AXIS_X).attr("y1", y(crossValue)).attr("y2", y(crossValue))
  .attr("stroke", "#bdbdbd").attr("stroke-dasharray", "4,5");
svg.append("line").attr("x1", x(crossBar)).attr("x2", x(crossBar)).attr("y1", 3).attr("y2", AXIS_Y)
  .attr("stroke", "#bdbdbd").attr("stroke-dasharray", "4,5");

const line = d3.line().x(d => x(d[0])).y(d => y(d[1]));
const area = d3.area().x(d => x(d[0])).y0(y(floorValue)).y1(d => y(d[1]));

// the comparison lines sit below the translucent area
[[us30y, "#7c0a4e"], [us10y, "#7c0a5e"], [us5y, "#7a0a7c"]].forEach(s => {
  svg.append("path").datum(s[0]).attr("d", line).attr("fill", "none")
    .attr("stroke", s[1]).attr("stroke-opacity", 0.64).attr("stroke-width", 2)
    .attr("stroke-linejoin", "round");
});
svg.append("path").datum(us2y).attr("d", area).attr("fill", "url(#areaFill)");
svg.append("path").datum(us2y).attr("d", line).attr("fill", "none")
  .attr("stroke", "#3fa9ee").attr("stroke-width", 1.6).attr("stroke-linejoin", "round");

// last value line
svg.append("line").attr("x1", 3).attr("x2", AXIS_X).attr("y1", y(-95.32)).attr("y2", y(-95.32))
  .attr("stroke", "#6f8fe8").attr("stroke-width", 1.5).attr("stroke-dasharray", "1,1");

// P markers
const mk = svg.append("g").selectAll("g").data(markers).join("g")
  .attr("transform", d => `translate(${x(d[0])},${y(d[1])})`);
mk.append("circle").attr("r", 6.5).attr("fill", "#0a8ee8");
mk.append("text").attr("text-anchor", "middle").attr("y", 3.5).attr("font-size", 10)
  .attr("font-weight", "bold").attr("fill", "#fff").text("P");

// right axis
const yAxis = svg.append("g").attr("transform", `translate(${AXIS_X},0)`)
  .call(d3.axisRight(y).tickValues(yTicks).tickFormat(d => d.toFixed(2) + "%").tickSize(4).tickPadding(3));
yAxis.select(".domain").attr("d", "M0,2V" + AXIS_Y).attr("stroke", "#7b7184").attr("stroke-width", 1.5);
yAxis.selectAll("line").attr("stroke", "#8a8a8a");
yAxis.selectAll("text").attr("class", "sq").attr("font-size", 11.5).attr("fill", "#848484")
  .style("font-family", "'Liberation Sans', Arial, sans-serif");

// bottom axis
const xAxis = svg.append("g").attr("transform", `translate(0,${AXIS_Y})`)
  .call(d3.axisBottom(x).tickValues(monthBars).tickFormat(d => monthLabels[d] || "").tickSize(3).tickPadding(3));
xAxis.select(".domain").attr("d", "M3,0H" + AXIS_X).attr("stroke", "#9a9a9a").attr("stroke-width", 2);
xAxis.selectAll("line").attr("stroke", "#8a8a8a");
xAxis.selectAll("text").attr("class", "sqm").attr("font-size", 12.5).attr("fill", "#7d7d7d")
  .style("font-family", "'Liberation Sans', Arial, sans-serif");

// value flags on the right
function flag(val, fill) {
  const cy = y(val);
  svg.append("rect").attr("x", AXIS_X + 1).attr("y", cy - 6.5).attr("width", 43).attr("height", 13).attr("fill", fill);
  svg.append("text").attr("class", "sq").attr("x", AXIS_X + 6).attr("y", cy + 4)
    .attr("font-size", 11.5).attr("fill", "#f3e6ee").text(val.toFixed(2) + "%");
}
svg.append("rect").attr("x", AXIS_X + 1).attr("y", y(crossValue) - 6.5).attr("width", 42).attr("height", 13).attr("fill", "#4a4a4a");
svg.append("text").attr("class", "sq").attr("x", AXIS_X + 6).attr("y", y(crossValue) + 4)
  .attr("font-size", 11.5).attr("fill", "#eeeeee").text(crossValue.toFixed(3));
lastValues.forEach((v, i) => flag(v, lastColors[i]));

// crosshair date
svg.append("rect").attr("x", x(crossBar) - 27).attr("y", 886).attr("width", 54).attr("height", 16).attr("fill", "#4a4a4a");
svg.append("text").attr("class", "sqm").attr("x", x(crossBar)).attr("y", 898).attr("text-anchor", "middle")
  .attr("font-size", 12).attr("fill", "#eeeeee").text(crossLabel);

// legend
const legend = svg.append("g");
legend.append("rect").attr("x", 7.5).attr("y", 13.5).attr("width", 10).attr("height", 10).attr("rx", 2)
  .attr("fill", "none").attr("stroke", "#8a8a8a");
legend.append("line").attr("x1", 9).attr("x2", 16).attr("y1", 18.5).attr("y2", 18.5).attr("stroke", "#8a8a8a");
legend.append("text").attr("class", "sq").attr("x", 22).attr("y", 24).attr("font-size", 16.5).attr("fill", "#555")
  .text("United States 2-Year, United States, D, NYSE");

function caret(cx, cy) {
  legend.append("path").attr("d", `M${cx - 3},${cy - 1.5}h6l-3,3z`).attr("fill", "#c4c4c4");
}
function iconBox(bx, by, size) {
  legend.append("rect").attr("x", bx).attr("y", by).attr("width", size).attr("height", size).attr("fill", "#d4d4d4");
  legend.append("circle").attr("cx", bx + size / 2).attr("cy", by + size / 2).attr("r", size / 4)
    .attr("fill", "none").attr("stroke", "#f4f4f4").attr("stroke-width", 1.3);
}
caret(312, 18);
iconBox(324, 13, 11);
iconBox(339, 13, 11);

const ohlcLabels = ["O", "H", "L", "C"];
const ohlcValues = ["0.190", "0.190", "0.159", "0.163"];
const ohlcX = [357, 406, 454, 501];
ohlcLabels.forEach((k, i) => {
  legend.append("text").attr("x", ohlcX[i]).attr("y", 24).attr("font-size", 12.5).attr("fill", "#777").text(k);
  legend.append("text").attr("x", ohlcX[i] + 9).attr("y", 24).attr("font-size", 12.5).attr("fill", "#2ea3ee").text(ohlcValues[i]);
});

const subNames = ["US5YT=X, NYSE", "US10YT=X, NYSE", "US30YT=X, NYSE"];
const subValues = ["0.39", "0.86", "1.56"];
const subColors = ["#a0289a", "#a03c90", "#9a2a6a"];
const subRows = [39, 56, 73];
const subCaret = [81, 86, 86];
const subIcons = [93, 98, 98];
const subValueX = [140, 145, 145];
subNames.forEach((n, i) => {
  legend.append("text").attr("class", "sq").attr("x", 6).attr("y", subRows[i]).attr("font-size", 11.5).attr("fill", "#6e6e6e").text(n);
  caret(subCaret[i], subRows[i] - 4);
  [0, 14.5, 29].forEach(dx => iconBox(subIcons[i] + dx, subRows[i] - 10, 12));
  legend.append("text").attr("class", "sq").attr("x", subValueX[i]).attr("y", subRows[i]).attr("font-size", 11.5).attr("fill", subColors[i]).text(subValues[i]);
});

// logo
svg.append("text").attr("x", 13).attr("y", 869).attr("font-size", 19).attr("font-weight", "bold")
  .attr("fill", "#111").attr("letter-spacing", -0.7).text("Investing");
svg.append("text").attr("class", "sq").attr("x", 88).attr("y", 869).attr("font-size", 15).attr("fill", "#444").text(".com");
svg.append("circle").attr("cx", 65).attr("cy", 857).attr("r", 1.6).attr("fill", "#f5a623");
</script>
</body>
</html>
